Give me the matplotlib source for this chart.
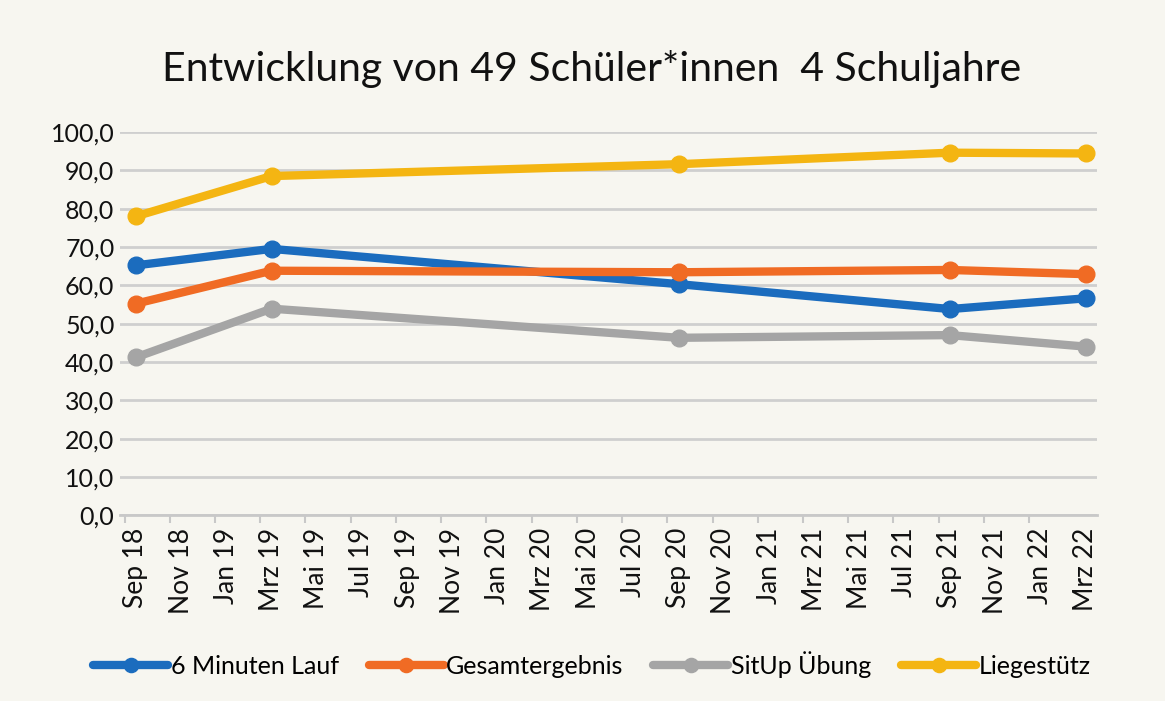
import numpy as np
import matplotlib.pyplot as plt

# Monate auf der x-Achse (alle 2 Monate beschriftet)
monate = ['Sep 18', 'Nov 18', 'Jan 19', 'Mrz 19', 'Mai 19', 'Jul 19', 'Sep 19', 'Nov 19',
          'Jan 20', 'Mrz 20', 'Mai 20', 'Jul 20', 'Sep 20', 'Nov 20', 'Jan 21', 'Mrz 21',
          'Mai 21', 'Jul 21', 'Sep 21', 'Nov 21', 'Jan 22', 'Mrz 22']
# Messzeitpunkte
termine = ['Sep 18', 'Mrz 19', 'Sep 20', 'Sep 21', 'Mrz 22']
lauf = [65.2, 69.5, 60.3, 53.8, 56.6]
gesamt = [55.2, 63.8, 63.4, 64.0, 62.9]
situp = [41.2, 53.9, 46.3, 47.0, 44.0]
liegestuetz = [78.0, 88.5, 91.6, 94.6, 94.4]

namen = ['6 Minuten Lauf', 'Gesamtergebnis', 'SitUp Übung', 'Liegestütz']
farben = ['#1b6cbe', '#f06b24', '#a5a5a5', '#f4b512']

plt.rcParams['font.family'] = ['Lato', 'DejaVu Sans']

# Monatsindex ab Sep 18
tick_pos = np.arange(len(monate)) * 2
x = [tick_pos[monate.index(t)] for t in termine]

fig = plt.figure(figsize=(11.65, 7.01), dpi=100)
fig.patch.set_facecolor('#f7f6f0')
ax = fig.add_axes([0.103, 0.265, 0.8386, 0.5467])
ax.set_facecolor('#f7f6f0')

for werte, name, farbe in zip([lauf, gesamt, situp, liegestuetz], namen, farben):
    ax.plot(x, werte, color=farbe, linewidth=6, marker='o', markersize=12,
            label=name, solid_capstyle='round')

ax.set_ylim(0, 100)
ax.set_yticks(np.arange(0, 101, 10))
ax.set_yticklabels([f'{v:.1f}'.replace('.', ',') for v in np.arange(0, 101, 10)])
ax.yaxis.grid(True, color='#cfcfcf', linewidth=2)
ax.set_axisbelow(True)

ax.set_xlim(-0.7, tick_pos[-1] + 0.5)
ax.set_xticks(tick_pos)
ax.set_xticklabels(monate, rotation=90)
ax.set_xticks(tick_pos[:-1] - 0.5, minor=True)
ax.tick_params(axis='x', which='major', length=0, pad=9, labelsize=19, labelcolor='#111111')
ax.tick_params(axis='x', which='minor', length=6, color='#c8c8c8', width=1.5)
ax.tick_params(axis='y', length=0, labelsize=18, labelcolor='#111111', pad=4)

for s in ['top', 'right', 'left']:
    ax.spines[s].set_visible(False)
ax.spines['bottom'].set_color('#c8c8c8')
ax.spines['bottom'].set_linewidth(2)

fig.text(0.508, 0.902, 'Entwicklung von 49 Schüler*innen  4 Schuljahre',
         ha='center', va='center', fontsize=29.5, color='#111111')

fig.legend(loc='center', bbox_to_anchor=(0.508, 0.052), ncol=4, frameon=False,
           fontsize=18, handlelength=3.0, handletextpad=0.1, columnspacing=1.2,
           markerscale=0.85)

fig.savefig('out.png', dpi=100, facecolor=fig.get_facecolor())
